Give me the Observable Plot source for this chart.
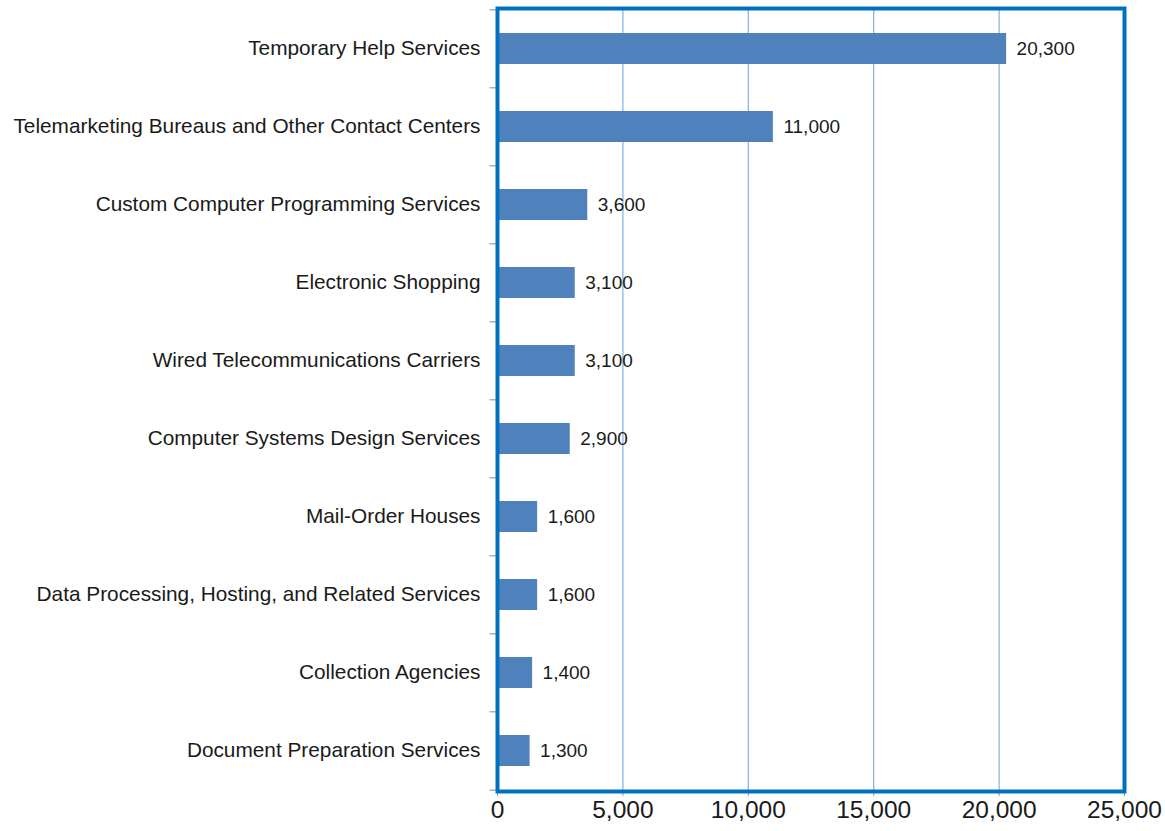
<!DOCTYPE html>
<html>
<head>
<meta charset="utf-8">
<script src="https://cdn.jsdelivr.net/npm/d3@7"></script>
<script src="https://cdn.jsdelivr.net/npm/@observablehq/plot@0.6"></script>
<style>
  body { margin: 0; background: #fff; }
  #chart svg { display: block; }
</style>
</head>
<body>
<div id="chart"></div>
<script>
const categories = [
  "Temporary Help Services",
  "Telemarketing Bureaus and Other Contact Centers",
  "Custom Computer Programming Services",
  "Electronic Shopping",
  "Wired Telecommunications Carriers",
  "Computer Systems Design Services",
  "Mail-Order Houses",
  "Data Processing, Hosting, and Related Services",
  "Collection Agencies",
  "Document Preparation Services"
];
const values = [20300, 11000, 3600, 3100, 3100, 2900, 1600, 1600, 1400, 1300];
const xTicks = [0, 5000, 10000, 15000, 20000, 25000];
const gridTicks = [5000, 10000, 15000, 20000];

const data = categories.map((c, i) => ({category: c, value: values[i]}));
const fmt = d3.format(",");

const H = 831, mTop = 8, mBottom = 40;
const step = (H - mTop - mBottom) / categories.length;
const last = categories[categories.length - 1];

const chart = Plot.plot({
  width: 1165,
  height: H,
  marginLeft: 497,
  marginRight: 41,
  marginTop: mTop,
  marginBottom: mBottom,
  style: {fontFamily: "'Liberation Sans', Arial, sans-serif", color: "#1a1a1a", background: "#fff"},
  x: {domain: [0, 25000], ticks: xTicks, tickFormat: fmt, label: null},
  y: {domain: categories, paddingInner: 0.6, paddingOuter: 0.3, label: null},
  marks: [
    Plot.ruleX(gridTicks, {stroke: "#7eb1e3", strokeWidth: 1.2}),
    Plot.barX(data, {y: "category", x: "value", fill: "#4f81bd"}),
    Plot.text(data, {y: "category", x: "value", text: d => fmt(d.value), textAnchor: "start", dx: 10, fontSize: 19, fill: "#1a1a1a"}),
    Plot.ruleY(categories, {y: d => d, x1: -300, x2: 0, dy: -step / 2, stroke: "#888", clip: false}),
    Plot.ruleY([last], {y: d => d, x1: -300, x2: 0, dy: step / 2, stroke: "#888", clip: false}),
    Plot.axisY({tickSize: 0, tickPadding: 17, fontSize: 20.8, dy: -1, label: null}),
    Plot.axisX({ticks: xTicks, tickFormat: fmt, tickSize: 5, tickPadding: 4, fontSize: 24.5, stroke: "#999", label: null}),
    Plot.frame({stroke: "#0070c0", strokeWidth: 4})
  ]
});
document.getElementById("chart").appendChild(chart);
</script>
</body>
</html>
